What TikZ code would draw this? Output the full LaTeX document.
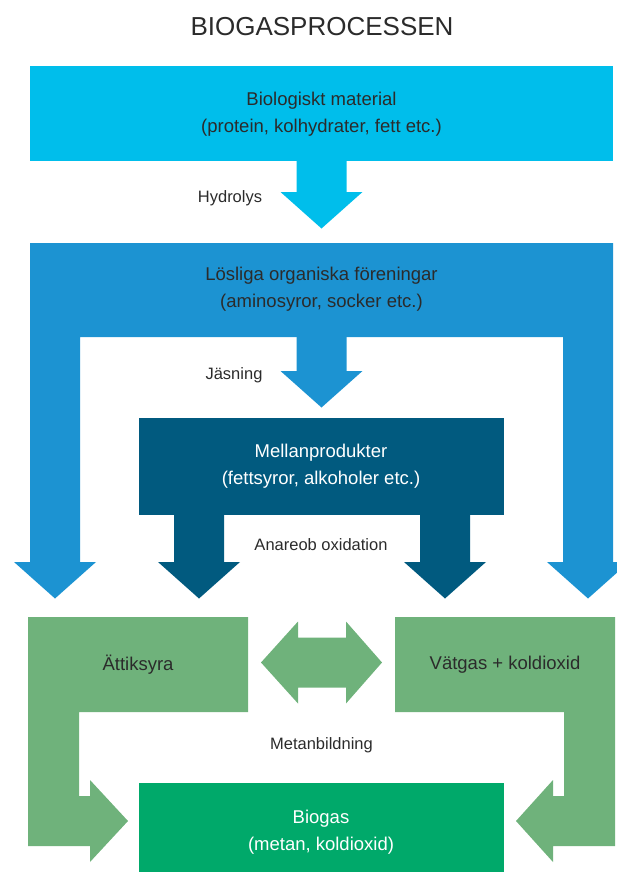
\documentclass[tikz,border=0pt]{standalone}
\usepackage{fontspec}
\setmainfont{Liberation Sans}
\definecolor{BioCyan}{HTML}{00BEEB}
\definecolor{BioBlue}{HTML}{1C93D2}
\definecolor{BioDark}{HTML}{015A7F}
\definecolor{BioGreen}{HTML}{6FB27B}
\definecolor{BioGas}{HTML}{00A96A}
\definecolor{BioText}{HTML}{2B2B2B}

\begin{document}
\begin{tikzpicture}[x=1pt,y=-1pt,
  boxtext/.style={align=center,text=BioText,inner sep=0pt,font=\fontsize{18.5}{27}\selectfont},
  steplabel/.style={text=BioText,inner sep=0pt,font=\fontsize{16.5}{20}\selectfont}]

% Block arrow size (pt)
\def\shaft{25}    % half shaft width
\def\headw{41}    % half head width
\def\headd{36.5}  % head depth

\useasboundingbox (0,0) rectangle (617,872);
\clip (0,0) rectangle (617,872);

% ---- HYDROLYS ----
\fill[BioCyan] (30,66) rectangle (613,160.5);
\fill[BioCyan] (321.5-\shaft,159) -- (321.5+\shaft,159) -- (321.5+\shaft,192)
  -- (321.5+\headw,192) -- (321.5,192+\headd) -- (321.5-\headw,192) -- (321.5-\shaft,192) -- cycle;

% ---- JASNING (U-shape with side arrows) ----
\fill[BioBlue] (30,243) -- (613,243) -- (613,562) -- (588+\headw,562) -- (588,562+\headd)
  -- (588-\headw,562) -- (563,562) -- (563,337) -- (80,337) -- (80,562)
  -- (55+\headw,562) -- (55,562+\headd) -- (55-\headw,562) -- (30,562) -- cycle;
\fill[BioBlue] (321.5-\shaft,336) -- (321.5+\shaft,336) -- (321.5+\shaft,371)
  -- (321.5+\headw,371) -- (321.5,371+\headd) -- (321.5-\headw,371) -- (321.5-\shaft,371) -- cycle;

% ---- ANAEROB OXIDATION ----
\fill[BioDark] (138.5,418) rectangle (503.5,514.5);
\foreach \x in {199,445}
  \fill[BioDark] (\x-\shaft,513) -- (\x+\shaft,513) -- (\x+\shaft,562)
    -- (\x+\headw,562) -- (\x,562+\headd) -- (\x-\headw,562) -- (\x-\shaft,562) -- cycle;

% ---- METANBILDNING ----
\fill[BioGreen] (28,617) -- (248,617) -- (248,712) -- (79,712) -- (79,796) -- (90,796)
  -- (90,780) -- (128,821) -- (90,862) -- (90,846) -- (28,846) -- cycle;
\fill[BioGreen] (615,617) -- (395,617) -- (395,712) -- (564,712) -- (564,796) -- (553,796)
  -- (553,780) -- (516,821) -- (553,862) -- (553,846) -- (615,846) -- cycle;
% two-way arrow between the products
\fill[BioGreen] (261,662.5) -- (298,621.5) -- (298,637.5) -- (346,637.5) -- (346,621.5)
  -- (382,662.5) -- (346,703.5) -- (346,687.5) -- (298,687.5) -- (298,703.5) -- cycle;
\fill[BioGas] (138.5,783) rectangle (504,872);

% ---- TEXTS ----
\node[text=BioText,inner sep=0pt,font=\fontsize{26}{30}\selectfont] (title) at (322,27) {BIOGASPROCESSEN};
\node[boxtext] (material) at (321.5,114) {Biologiskt material\\(protein, kolhydrater, fett etc.)};
\node[boxtext] (losliga) at (321.5,289) {Lösliga organiska föreningar\\(aminosyror, socker etc.)};
\node[boxtext,text=white] (mellan) at (321,466) {Mellanprodukter\\(fettsyror, alkoholer etc.)};
\node[boxtext] (attik) at (138,665) {Ättiksyra};
\node[boxtext] (vatgas) at (505,665) {Vätgas + koldioxid};
\node[boxtext,text=white] (biogas) at (321,832) {Biogas\\(metan, koldioxid)};

\node[steplabel] (hydrolys) at (230,198) {Hydrolys};
\node[steplabel] (jasning) at (234,375) {Jäsning};
\node[steplabel] (anaerob) at (321,545) {Anareob oxidation};
\node[steplabel] (metan) at (321.5,745) {Metanbildning};

\end{tikzpicture}
\end{document}
